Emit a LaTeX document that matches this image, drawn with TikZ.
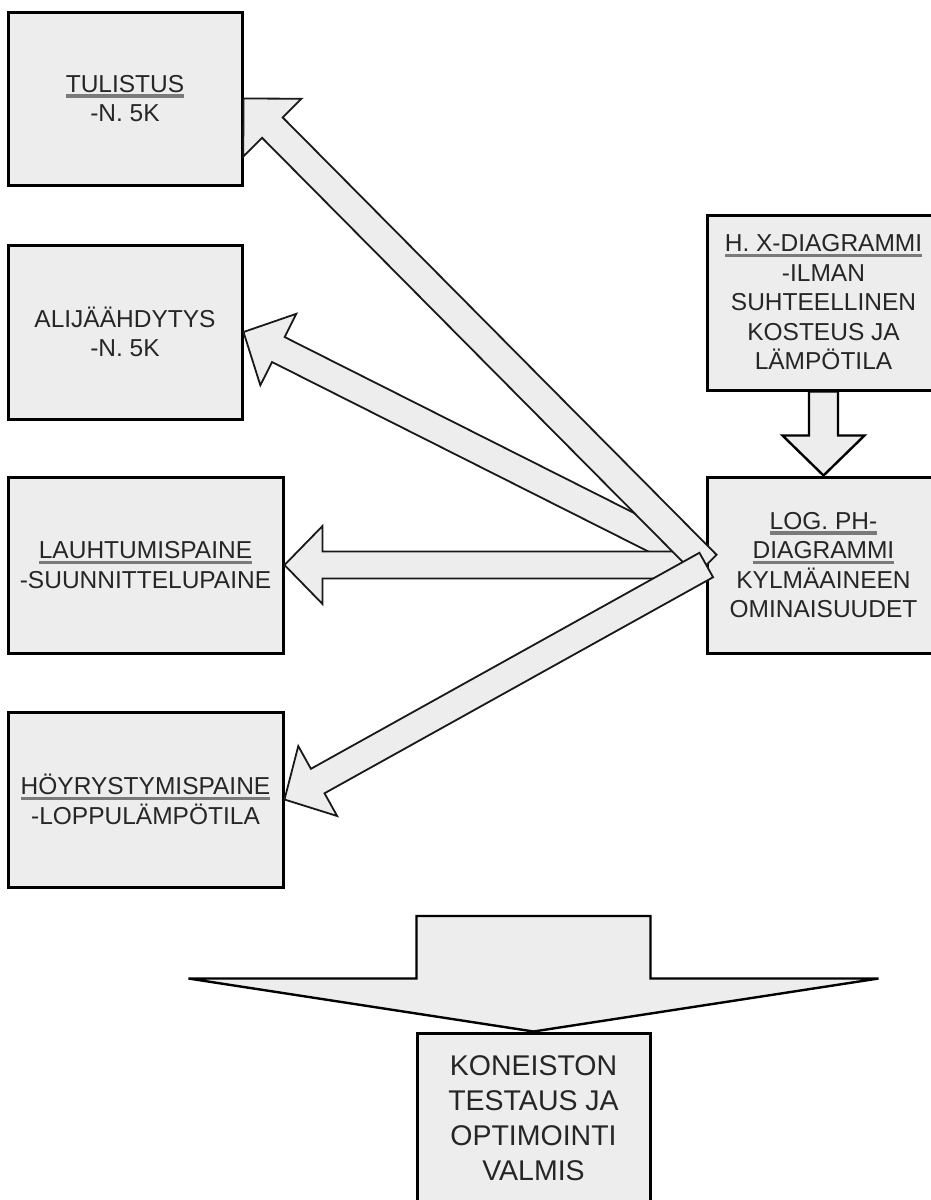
\documentclass[tikz,border=0pt]{standalone}
\usepackage{fontspec}
\setmainfont{Liberation Sans}
\usetikzlibrary{calc}

\definecolor{boxgray}{HTML}{EDEDED}
\definecolor{ulgray}{HTML}{7A7A7A}
\definecolor{txt}{HTML}{262626}

% thick grey underline used for the headings
\newsavebox\ulbox
\newcommand\gul[1]{\leavevmode\sbox\ulbox{#1}\rlap{\textcolor{ulgray}{\rule[-5.5pt]{\wd\ulbox}{3.5pt}}}\usebox\ulbox}

% block arrow: [style]{tail}{tip}{shaft half width}{head half width}{head length}
\newcommand\blockarrow[6][]{%
  \path ($(#3)!#6!(#2)$) coordinate (ba-base);
  \draw[#1] (#3)
    -- ($(ba-base)!#5!90:(#3)$)
    -- ($(ba-base)!#4!90:(#3)$)
    -- ($(#2)!#4!90:(#3)$)
    -- ($(#2)!#4!-90:(#3)$)
    -- ($(ba-base)!#4!-90:(#3)$)
    -- ($(ba-base)!#5!-90:(#3)$)
    -- cycle;
}

\begin{document}
\begin{tikzpicture}[x=1pt,y=-1pt,
  box/.style={draw=black, line width=3pt, fill=boxgray, inner sep=0pt,
    align=center, text=txt, font=\fontsize{24.5}{29.5}\selectfont},
  bigbox/.style={box, font=\fontsize{28.5}{35}\selectfont},
  thinarrow/.style={draw=black!90, line width=1.8pt, fill=boxgray, line join=miter},
  thickarrow/.style={draw=black, line width=2.4pt, fill=boxgray, line join=miter}]

\path[use as bounding box, clip] (0,0) rectangle (931,1200);
\fill[white] (0,0) rectangle (931,1200);

% result boxes on the left
\node[box, minimum width=234pt, minimum height=173pt] (tul) at (125,98.5)
  {\gul{TULISTUS}\\-N. 5K};
\node[box, minimum width=234pt, minimum height=174pt] (ali) at (125,332)
  {ALIJÄÄHDYTYS\\-N. 5K};
\node[box, minimum width=275pt, minimum height=176pt] (lau) at (145.5,565)
  {\gul{LAUHTUMISPAINE}\\-SUUNNITTELUPAINE};
\node[box, minimum width=275pt, minimum height=175pt] (hoy) at (145.5,799.5)
  {\gul{HÖYRYSTYMISPAINE}\\-LOPPULÄMPÖTILA};

% source boxes on the right
\node[box, minimum width=231.5pt, minimum height=175pt] (hx) at (823.5,302.5)
  {\gul{H. X-DIAGRAMMI}\\-ILMAN\\SUHTEELLINEN\\KOSTEUS JA\\LÄMPÖTILA};
\node[box, minimum width=231.5pt, minimum height=176pt] (log) at (823.5,565)
  {\gul{LOG. PH-}\\\gul{DIAGRAMMI}\\KYLMÄAINEEN\\OMINAISUUDET};

% final box
\node[bigbox, minimum width=233pt, minimum height=170pt] (bot) at (533.5,1118)
  {KONEISTON\\TESTAUS JA\\OPTIMOINTI\\VALMIS};

% connectors
\blockarrow[thickarrow]{hx.south}{log.north}{14.5pt}{41pt}{40pt}
\blockarrow[thinarrow]{log.west}{ali.east}{14pt}{40pt}{39pt}
\blockarrow[thinarrow]{log.west}{lau.east}{13.5pt}{39pt}{38pt}
\blockarrow[thinarrow]{log.west}{tul.east}{14.5pt}{41pt}{41pt}
\blockarrow[thinarrow]{log.west}{hoy.east}{14pt}{40pt}{38pt}

\coordinate (feed) at (533.5,916);
\blockarrow[thickarrow]{feed}{bot.north}{117pt}{345pt}{53pt}

\end{tikzpicture}
\end{document}
